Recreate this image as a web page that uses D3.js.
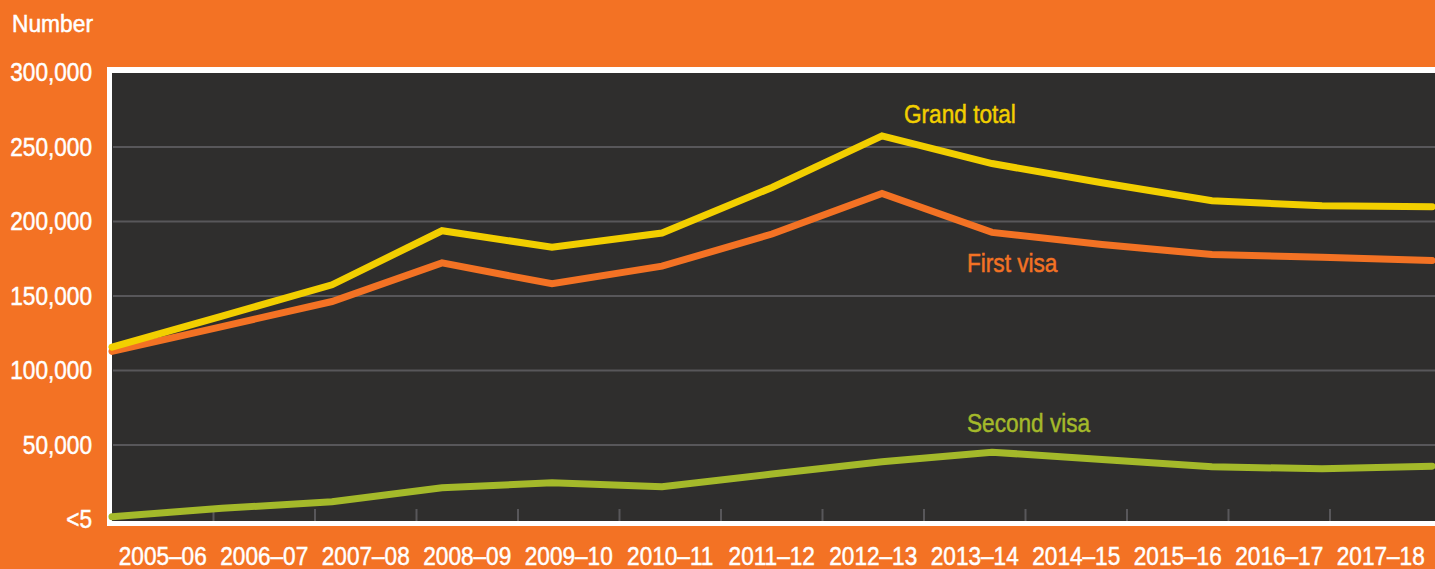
<!DOCTYPE html>
<html>
<head>
<meta charset="utf-8">
<script src="https://cdn.jsdelivr.net/npm/d3@7"></script>
<style>
  html, body { margin: 0; padding: 0; background: #F37224; overflow: hidden; }
  svg { display: block; }
  text { font-family: "Liberation Sans", Arial, sans-serif; stroke-width: 0.5px; }
</style>
</head>
<body>
<svg id="chart" width="1435" height="569"></svg>
<script>
// ---- data ----
const categories = ["2005–06","2006–07","2007–08","2008–09","2009–10","2010–11","2011–12","2012–13","2013–14","2014–15","2015–16","2016–17","2017–18"];
const grandTotal = [115700, 136500, 157500, 193800, 182700, 192300, 222800, 257500, 238900, 226000, 213900, 210600, 209900];
const firstVisa  = [112800, 129500, 146300, 172200, 158200, 170000, 191600, 218800, 192700, 184500, 177800, 176000, 173800];
const secondVisa = [1900, 7500, 11900, 21300, 24600, 22000, 30500, 38700, 45200, 40300, 35400, 34000, 35800];
const yTicks = [0, 50000, 100000, 150000, 200000, 250000, 300000];
const yTickLabels = ["<5", "50,000", "100,000", "150,000", "200,000", "250,000", "300,000"];
const seriesNames = ["Grand total", "First visa", "Second visa"];

// ---- style ----
const C = {
  bg: "#F37224", panel: "#2F2E2D", grid: "#58575A", white: "#FFFFFF",
  yellow: "#F2CF00", orange: "#F37224", green: "#A4B92A"
};
const SQUEEZE = 0.87; // horizontal condensing of the condensed typeface

const svg = d3.select("#chart");
svg.append("rect").attr("width", 1435).attr("height", 569).attr("fill", C.bg);

const plot = { left: 112, top: 73, bottom: 521 };

const y = d3.scaleLinear().domain([0, 300000]).range([519.5, 72.5]);
const xBand = d3.scaleBand().domain(categories).range([112, 1431.5]);
const xPoint = d3.scalePoint().domain(categories).range([112, 1432]);

function place(sel, fx, fy, sx) {
  return sel.attr("transform", (d, i) => `translate(${fx(d, i)},${fy(d, i)}) scale(${sx},1)`);
}

// panel with white frame
svg.append("rect").attr("x", 107).attr("y", 67).attr("width", 1340).attr("height", 459).attr("fill", C.white);
svg.append("rect").attr("x", plot.left).attr("y", plot.top).attr("width", 1340).attr("height", plot.bottom - plot.top).attr("fill", C.panel);

// gridlines
svg.append("g").selectAll("line")
  .data(yTicks.filter(d => d > 0 && d < 300000))
  .join("line")
  .attr("x1", 113).attr("x2", 1435)
  .attr("y1", d => y(d)).attr("y2", d => y(d))
  .attr("stroke", C.grid).attr("stroke-width", 2);

// x tick marks at band boundaries
svg.append("g").selectAll("line")
  .data(categories.slice(1))
  .join("line")
  .attr("x1", d => xBand(d)).attr("x2", d => xBand(d))
  .attr("y1", 509).attr("y2", 521)
  .attr("stroke", C.grid).attr("stroke-width", 2);

// y labels
place(svg.append("g").selectAll("text")
  .data(yTicks)
  .join("text")
  .attr("text-anchor", "end")
  .attr("fill", C.white).attr("stroke", C.white).attr("font-size", 26)
  .text((d, i) => yTickLabels[i]), () => 92, d => y(d) + 8.5, SQUEEZE);

// x labels
place(svg.append("g").selectAll("text")
  .data(categories)
  .join("text")
  .attr("text-anchor", "middle")
  .attr("fill", C.white).attr("stroke", C.white).attr("font-size", 26)
  .text(d => d), d => xBand(d) + xBand.bandwidth() / 2, () => 565, SQUEEZE);

// axis title
place(svg.append("text").datum("Number")
  .attr("fill", C.white).attr("stroke", C.white).attr("font-size", 24).text(d => d), () => 12, () => 32, 0.95);

// lines
const line = d3.line().x((d, i) => xPoint(categories[i])).y(d => y(d));
const series = [
  { name: seriesNames[1], values: firstVisa, color: C.orange },
  { name: seriesNames[0], values: grandTotal, color: C.yellow },
  { name: seriesNames[2], values: secondVisa, color: C.green }
];
svg.append("g").selectAll("path")
  .data(series)
  .join("path")
  .attr("d", d => line(d.values))
  .attr("fill", "none")
  .attr("stroke", d => d.color)
  .attr("stroke-width", 7)
  .attr("stroke-linejoin", "miter")
  .attr("stroke-linecap", "round");

// series labels
const labelPos = [
  { name: seriesNames[0], color: C.yellow, x: 904, y: 123 },
  { name: seriesNames[1], color: C.orange, x: 967, y: 272 },
  { name: seriesNames[2], color: C.green, x: 967, y: 432 }
];
place(svg.append("g").selectAll("text")
  .data(labelPos)
  .join("text")
  .attr("fill", d => d.color).attr("stroke", d => d.color).attr("font-size", 26)
  .text(d => d.name), d => d.x, d => d.y, SQUEEZE);
</script>
</body>
</html>
